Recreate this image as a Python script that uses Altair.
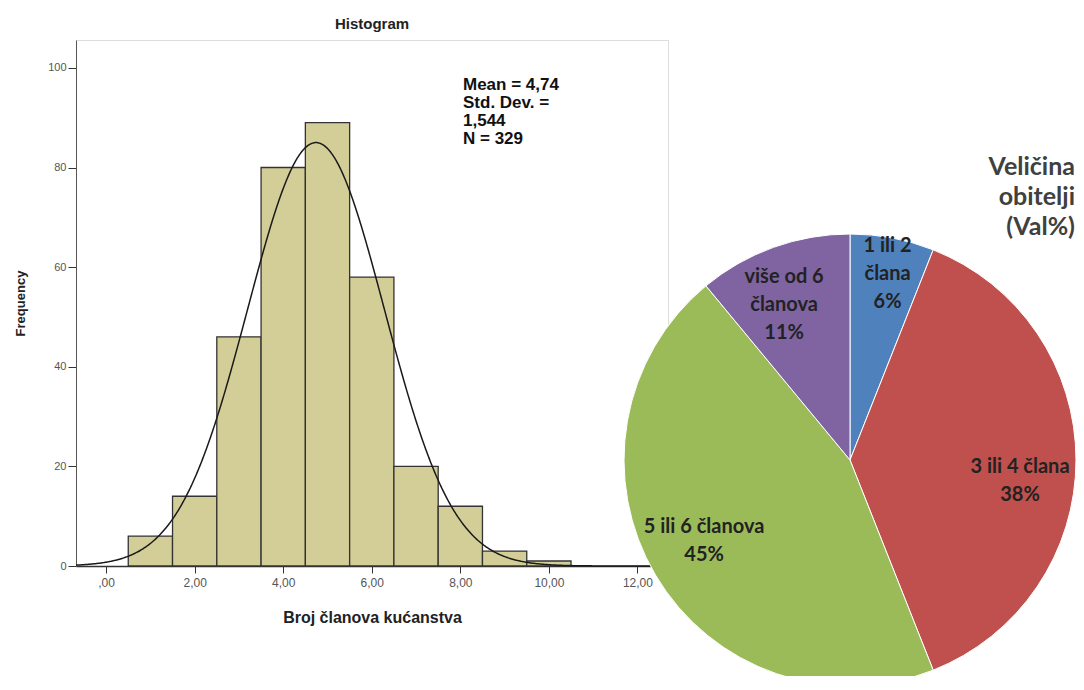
import json
import altair as alt
import pandas as pd

# ---------------- data ----------------
bin_centers = [1, 2, 3, 4, 5, 6, 7, 8, 9, 10]
counts = [6, 14, 46, 80, 89, 58, 20, 12, 3, 1]
y_ticks = [0, 20, 40, 60, 80, 100]
x_ticks = [0, 2, 4, 6, 8, 10, 12]
MEAN = 4.74
SD = 1.544
N = 329
BIN_W = 1.0
stats_lines = ["Mean = 4,74", "Std. Dev. =", "1,544", "N = 329"]

pie_cats = ["1 ili 2 člana", "3 ili 4 člana", "5 ili 6 članova", "više od 6 članova"]
pie_vals = [6, 38, 45, 11]
pie_labels = ["1 ili 2\nčlana\n6%", "3 ili 4 člana\n38%", "5 ili 6 članova\n45%", "više od 6\nčlanova\n11%"]
pie_colors = ["#4f81bd", "#c0504d", "#9bbb59", "#8064a2"]
legend_title = ["Veličina", "obitelji", "(Val%)"]

# ---------------- layout ----------------
PLOT_W, PLOT_H = 592, 526
X_DOM = [-0.68, 12.69]
Y_DOM = [0, 105.6]
PIE_CX, PIE_CY, PIE_R = 774, 420, 226
ARIAL = "Liberation Sans"
CAL = "Lato"

xs = alt.Scale(domain=X_DOM, nice=False, zero=False)
ys = alt.Scale(domain=Y_DOM, nice=False, zero=False)
XT = "Broj članova kućanstva"
YT = "Frequency"

xaxis = alt.Axis(
    values=x_ticks,
    labelExpr="datum.value == 0 ? ',00' : replace(format(datum.value, '.2f'), '.', ',')",
    grid=False, tickSize=7, tickColor="#333", domainColor="#333", domainWidth=1.5,
    labelColor="#555", labelFont=ARIAL, labelFontSize=12, labelPadding=4,
    titleFont=ARIAL, titleFontSize=16, titleFontWeight="bold", titleColor="#222",
    titlePadding=21,
)
yaxis = alt.Axis(
    values=y_ticks, grid=False, tickSize=8, tickColor="#333", domainColor="#555",
    labelColor="#555", labelFont=ARIAL, labelFontSize=11, labelPadding=2,
    titleFont=ARIAL, titleFontSize=13, titleFontWeight="bold", titleColor="#222",
    titlePadding=20,
)

hist_df = pd.DataFrame({"center": bin_centers, "count": counts})
bars = (
    alt.Chart(hist_df)
    .transform_calculate(x0=f"datum.center - {BIN_W}/2", x1=f"datum.center + {BIN_W}/2")
    .mark_rect(fill="#d3ce97", stroke="#333333", strokeWidth=1.3)
    .encode(
        x=alt.X("x0:Q", scale=xs, axis=xaxis, title=XT),
        x2="x1:Q",
        y=alt.Y("count:Q", scale=ys, axis=yaxis, title=YT),
        y2=alt.datum(0),
    )
)

curve = (
    alt.Chart(alt.sequence(X_DOM[0], X_DOM[1], 0.02, as_="x"))
    .transform_calculate(y=f"{N} * {BIN_W} * densityNormal(datum.x, {MEAN}, {SD})")
    .mark_line(color="#1a1a1a", strokeWidth=1.5)
    .encode(x=alt.X("x:Q", title=XT), y=alt.Y("y:Q", title=YT))
)

stats = (
    alt.Chart(pd.DataFrame({"t": ["\n".join(stats_lines)]}))
    .mark_text(align="left", baseline="top", lineBreak="\n", font=ARIAL,
               fontWeight="bold", fontSize=17, lineHeight=18, color="#111")
    .encode(x=alt.value(387), y=alt.value(37), text="t:N")
)

pie_df = pd.DataFrame({"cat": pie_cats, "val": pie_vals, "ord": [0, 1, 2, 3], "label": pie_labels})
theta = alt.Theta("val:Q", stack=True)
order = alt.Order("ord:Q")

arc = (
    alt.Chart(pie_df)
    .mark_arc(radius=PIE_R, stroke="white", strokeWidth=1)
    .encode(
        theta=theta, order=order,
        color=alt.Color("cat:N", scale=alt.Scale(domain=pie_cats, range=pie_colors), legend=None),
        x=alt.value(PIE_CX), y=alt.value(PIE_CY),
    )
)


def label_layer(cats, radius, dx=0, dy=0):
    return (
        alt.Chart(pie_df)
        .transform_calculate(shown=f"indexof({json.dumps(cats)}, datum.cat) >= 0 ? datum.label : ''")
        .mark_text(radius=radius, dx=dx, dy=dy, lineBreak="\n", font=CAL, fontWeight="bold",
                   fontSize=20, lineHeight=28, color="#222", align="center", baseline="middle")
        .encode(theta=theta, order=order, text="shown:N",
                x=alt.value(PIE_CX), y=alt.value(PIE_CY))
    )


labels = [
    label_layer([pie_cats[0]], 190, dx=2, dy=-27),
    label_layer([pie_cats[1]], 170, dy=7),
    label_layer([pie_cats[2]], 166, dx=-3, dy=-18),
    label_layer([pie_cats[3]], 168, dx=-9, dy=-25),
]

legend = (
    alt.Chart(pd.DataFrame({"t": ["\n".join(legend_title)]}))
    .mark_text(align="right", baseline="middle", lineBreak="\n", font=CAL,
               fontWeight="bold", fontSize=25, lineHeight=30, color="#404040")
    .encode(x=alt.value(999), y=alt.value(127), text="t:N")
)

chart = (
    alt.layer(bars, curve, stats, arc, *labels, legend)
    .properties(
        width=PLOT_W, height=PLOT_H,
        title=alt.Title("Histogram", font=ARIAL, fontSize=15, fontWeight="bold", color="#222", offset=8),
        autosize=alt.AutoSizeParams(type="none"),
        padding={"left": 68, "top": 32, "right": 408, "bottom": 110},
    )
    .configure_view(fill="#f0f0f0", stroke="#777777", strokeWidth=2)
    .configure(background="white")
)

chart.save("out.html", embed_options={"renderer": "svg", "actions": False})
